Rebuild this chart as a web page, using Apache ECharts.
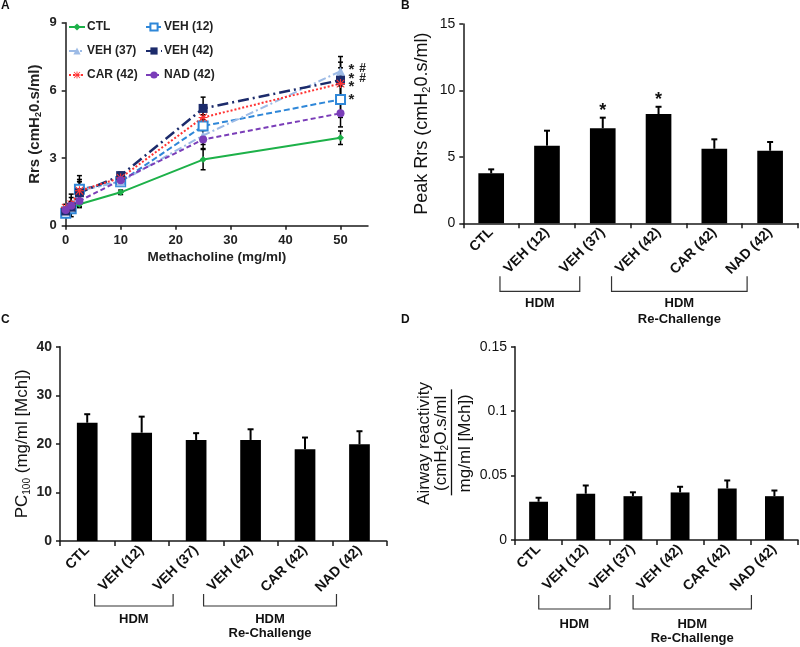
<!DOCTYPE html>
<html>
<head>
<meta charset="utf-8">
<script src="https://cdn.jsdelivr.net/npm/echarts@6/dist/echarts.min.js"></script>
<style>html,body{margin:0;padding:0;background:#fff}#c{width:800px;height:647px}</style>
</head>
<body>
<div id="c"></div>
<script>
// ---------- data ----------
const doses = [0, 1, 2.5, 10, 25, 50];
const xTicksA = [0, 10, 20, 30, 40, 50];
const ctl    = [0.60, 0.78, 0.95, 1.48, 2.93, 3.90];
const veh12  = [0.55, 0.75, 1.62, 1.95, 4.42, 5.60];
const veh37  = [0.70, 0.90, 1.55, 1.95, 4.00, 6.85];
const veh42  = [0.65, 0.82, 1.46, 2.22, 5.20, 6.45];
const car42  = [0.80, 0.95, 1.55, 2.12, 4.80, 6.30];
const nad42  = [0.70, 0.88, 1.10, 2.02, 3.82, 4.98];
const ctlErr   = [0.10, 0.10, 0.10, 0.10, 0.45, 0.30];
const veh12Err = [0.10, 0.20, 0.60, 0.15, 0.50, 0.80];
const veh37Err = [0.10, 0.50, 0.50, 0.15, 0.40, 0.65];
const veh42Err = [0.15, 0.20, 0.50, 0.15, 0.50, 0.80];
const car42Err = [0.15, 0.30, 0.40, 0.15, 0.40, 0.70];
const nad42Err = [0.10, 0.20, 0.30, 0.15, 0.40, 0.60];
const rrsMarks = [
  {t: '*', v: 7.08, col: 0}, {t: '#', v: 6.95, col: 1},
  {t: '*', v: 6.68, col: 0}, {t: '#', v: 6.50, col: 1},
  {t: '*', v: 6.33, col: 0}, {t: '*', v: 5.75, col: 0}
];

const categories = ['CTL', 'VEH (12)', 'VEH (37)', 'VEH (42)', 'CAR (42)', 'NAD (42)'];
const peakRrs    = [3.76, 5.84, 7.15, 8.22, 5.61, 5.46];
const peakRrsErr = [0.30, 1.13, 0.80, 0.55, 0.71, 0.66];
const peakStars  = ['', '', '*', '*', '', ''];
const pc100      = [24.35, 22.3, 20.8, 20.8, 18.9, 19.9];
const pc100Err   = [1.75, 3.30, 1.40, 2.20, 2.40, 2.70];
const reactivity    = [0.0297, 0.0359, 0.0340, 0.0369, 0.0400, 0.0340];
const reactivityErr = [0.0031, 0.0064, 0.0030, 0.0044, 0.0062, 0.0044];
const groups = [
  {lines: ['HDM'], from: 1, to: 2},
  {lines: ['HDM', 'Re-Challenge'], from: 3, to: 5}
];

// ---------- styling ----------
const FONT = "'Liberation Sans', Arial, sans-serif";
const AX = '#1a1a1a';
const chart = echarts.init(document.getElementById('c'), null, {renderer: 'canvas'});

function errSeries(idx, vals, errs, both, cap, lw, z) {
  return {
    type: 'custom', xAxisIndex: idx, yAxisIndex: idx, z: z, silent: true,
    data: vals.map((v, i) => [idx === 0 ? doses[i] : i, v, errs[i]]),
    encode: {x: 0, y: 1},
    renderItem: function (params, api) {
      const x = api.value(0), y = api.value(1), e = api.value(2);
      const t = api.coord([x, y + e]);
      const b = api.coord([x, both ? y - e : y]);
      const st = {stroke: '#000', lineWidth: lw};
      const ch = [
        {type: 'line', shape: {x1: t[0], y1: t[1], x2: b[0], y2: b[1]}, style: st},
        {type: 'line', shape: {x1: t[0] - cap, y1: t[1], x2: t[0] + cap, y2: t[1]}, style: st}
      ];
      if (both) ch.push({type: 'line', shape: {x1: b[0] - cap, y1: b[1], x2: b[0] + cap, y2: b[1]}, style: st});
      return {type: 'group', children: ch};
    }
  };
}

const asterisk = 'path://M4.4,0H5.6V10H4.4Z M0,4.4H10V5.6H0Z M1.2,0.4L9.6,8.8L8.8,9.6L0.4,1.2Z M8.8,0.4L9.6,1.2L1.2,9.6L0.4,8.8Z';
const lineDefs = [
  {name: 'CTL', v: ctl, color: '#1db149', dash: 'solid', sym: 'diamond', size: 7, w: 2},
  {name: 'VEH (12)', v: veh12, color: '#2f87d8', dash: [6, 3], sym: 'emptyRect', size: 9, w: 2},
  {name: 'VEH (37)', v: veh37, color: '#9dbbe6', dash: [8, 3, 2, 3], sym: 'triangle', size: 9, w: 2},
  {name: 'VEH (42)', v: veh42, color: '#1c2b6b', dash: [11, 4, 2, 4], sym: 'rect', size: 9, w: 2.5},
  {name: 'CAR (42)', v: car42, color: '#ff3333', dash: [2, 2], sym: asterisk, size: 9, w: 2},
  {name: 'NAD (42)', v: nad42, color: '#7a3db8', dash: [5, 3], sym: 'circle', size: 8, w: 2}
];

const lineSeries = lineDefs.map(d => ({
  type: 'line', name: d.name, xAxisIndex: 0, yAxisIndex: 0, z: 3,
  data: doses.map((x, i) => [x, d.v[i]]),
  symbol: d.sym, symbolSize: d.size, showSymbol: true,
  lineStyle: {color: d.color, width: d.w, type: d.dash},
  itemStyle: d.sym === 'emptyRect' ? {color: d.color, borderColor: d.color, borderWidth: 1.6} : {color: d.color},
  emphasis: {disabled: true}, animation: false
}));

const lineErrs = [
  errSeries(0, ctl, ctlErr, true, 2.5, 1.5, 2),
  errSeries(0, veh12, veh12Err, true, 2.5, 1.5, 2),
  errSeries(0, veh37, veh37Err, true, 2.5, 1.5, 2),
  errSeries(0, veh42, veh42Err, true, 2.5, 1.5, 2),
  errSeries(0, car42, car42Err, true, 2.5, 1.5, 2),
  errSeries(0, nad42, nad42Err, true, 2.5, 1.5, 2)
];

function legendItem(name, left, top) {
  return {
    data: [name], left: left, top: top, orient: 'horizontal',
    itemWidth: 16, itemHeight: 9, padding: 0,
    textStyle: {fontFamily: FONT, fontWeight: 'bold', fontSize: 12, color: '#222', padding: [0, 0, 0, -3]},
    selectedMode: false
  };
}

function valueAxisBase(idx, opts) {
  return Object.assign({
    type: 'value', gridIndex: idx,
    axisLine: {show: true, lineStyle: {color: AX, width: 1.5}},
    axisTick: {show: true, length: 4, lineStyle: {color: AX, width: 1.5}},
    splitLine: {show: false}
  }, opts);
}
function catAxis(idx) {
  return {
    type: 'category', gridIndex: idx, data: categories,
    axisLine: {show: true, lineStyle: {color: AX, width: 1.5}},
    axisTick: {show: true, length: 5, lineStyle: {color: AX, width: 1.5}},
    axisLabel: {rotate: 45, fontFamily: FONT, fontWeight: 'bold', fontSize: 14, color: '#111', margin: 7}
  };
}

const subRich = (fs, pad) => ({s: {fontSize: fs, padding: [pad, 0, 0, 0], fontFamily: FONT}});

const option = {
  animation: false,
  backgroundColor: '#fff',
  grid: [
    {left: 65.7, top: 22.7, width: 302.3, height: 203, outerBoundsMode: 'none'},
    {left: 463.3, top: 24, width: 334.7, height: 199.3, outerBoundsMode: 'none'},
    {left: 60, top: 346.7, width: 326.7, height: 194.3, outerBoundsMode: 'none'},
    {left: 515, top: 346.7, width: 283, height: 193.3, outerBoundsMode: 'none'}
  ],
  legend: [
    legendItem('CTL', 68, 21), legendItem('VEH (12)', 145, 21),
    legendItem('VEH (37)', 68, 45), legendItem('VEH (42)', 145, 45),
    legendItem('CAR (42)', 68, 69), legendItem('NAD (42)', 145, 69)
  ],
  xAxis: [
    valueAxisBase(0, {
      min: 0, max: 55, interval: 10,
      axisTick: {show: true, length: 4, customValues: xTicksA, lineStyle: {color: AX, width: 1.5}},
      axisLabel: {customValues: xTicksA, fontFamily: FONT, fontWeight: 'bold', fontSize: 13, color: '#222', margin: 8},
      name: 'Methacholine (mg/ml)', nameLocation: 'middle', nameGap: 25,
      nameTextStyle: {fontFamily: FONT, fontWeight: 'bold', fontSize: 13.5, color: '#222'}
    }),
    catAxis(1), catAxis(2), catAxis(3)
  ],
  yAxis: [
    valueAxisBase(0, {
      min: 0, max: 9, interval: 3, offset: 3,
      axisLabel: {fontFamily: FONT, fontWeight: 'bold', fontSize: 13, color: '#222', margin: 6},
      name: 'Rrs (cmH{s|2}0.s/ml)', nameLocation: 'middle', nameGap: 20, nameRotate: 90,
      nameTextStyle: {fontFamily: FONT, fontWeight: 'bold', fontSize: 15, color: '#222', rich: {s: {fontFamily: FONT, fontWeight: 'bold', fontSize: 9, padding: [7, 0, 0, 0]}}}
    }),
    valueAxisBase(1, {
      min: 0, max: 15, interval: 5,
      axisLabel: {fontFamily: FONT, fontSize: 14, color: '#111', margin: 8},
      name: 'Peak Rrs (cmH{s|2}0.s/ml)', nameLocation: 'middle', nameGap: 31, nameRotate: 90,
      nameTextStyle: {fontFamily: FONT, fontSize: 18, color: '#111', rich: subRich(11, 9)}
    }),
    valueAxisBase(2, {
      min: 0, max: 40, interval: 10,
      axisLabel: {fontFamily: FONT, fontWeight: 'bold', fontSize: 14, color: '#222', margin: 8},
      name: 'PC{s|100} (mg/ml [Mch])', nameLocation: 'middle', nameGap: 28, nameRotate: 90,
      nameTextStyle: {fontFamily: FONT, fontSize: 17, color: '#111', rich: subRich(10, 9)}
    }),
    valueAxisBase(3, {
      min: 0, max: 0.15, interval: 0.05,
      axisLabel: {fontFamily: FONT, fontSize: 14, color: '#111', margin: 8}
    })
  ],
  series: lineErrs.concat(lineSeries).concat([
    {type: 'bar', xAxisIndex: 1, yAxisIndex: 1, data: peakRrs, barWidth: '46%', itemStyle: {color: '#000'}, z: 2},
    errSeries(1, peakRrs, peakRrsErr, false, 3, 2, 3),
    {type: 'bar', xAxisIndex: 2, yAxisIndex: 2, data: pc100, barWidth: '38%', itemStyle: {color: '#000'}, z: 2},
    errSeries(2, pc100, pc100Err, false, 3, 2, 3),
    {type: 'bar', xAxisIndex: 3, yAxisIndex: 3, data: reactivity, barWidth: '40%', itemStyle: {color: '#000'}, z: 2},
    errSeries(3, reactivity, reactivityErr, false, 3, 2, 3)
  ])
};
chart.setOption(option);

// ---------- annotations computed from axes ----------
const px = (i, p) => chart.convertToPixel({xAxisIndex: i, yAxisIndex: i}, p);
const g = [];
const letter = (t, x, y) => g.push({type: 'text', x: x, y: y, style: {text: t, fontFamily: FONT, fontWeight: 'bold', fontSize: 12, fill: '#111'}});
letter('A', 1, 0); letter('B', 401, 0); letter('C', 1, 314); letter('D', 401, 314);

// panel A significance marks
rrsMarks.forEach(m => {
  const p = px(0, [doses[doses.length - 1], m.v]);
  const isStar = m.t === '*';
  g.push({type: 'text', x: p[0] + (m.col ? 22 : 11), y: p[1] + (isStar ? 4 : 0),
    style: {text: m.t, fontFamily: FONT, fontWeight: 'bold', fontSize: isStar ? 15 : 12, fill: '#222', align: 'center', verticalAlign: 'middle'}});
});

// panel B stars
peakStars.forEach((s, i) => {
  if (!s) return;
  const p = px(1, [i, peakRrs[i] + peakRrsErr[i]]);
  g.push({type: 'text', x: p[0], y: p[1] - 7,
    style: {text: s, fontFamily: FONT, fontWeight: 'bold', fontSize: 18, fill: '#111', align: 'center', verticalAlign: 'middle'}});
});

// group brackets for B, C, D
const bracketCfg = {1: {top: 53, bot: 68, l1: 80, l2: 96}, 2: {top: 53, bot: 65, l1: 78, l2: 92}, 3: {top: 55, bot: 69, l1: 84, l2: 98}};
[1, 2, 3].forEach(i => {
  const c = bracketCfg[i];
  const base = px(i, [0, 0])[1];
  groups.forEach(gr => {
    const xl = px(i, [gr.from, 0])[0] - 47;
    const xr = px(i, [gr.to, 0])[0] - 23;
    const yt = base + c.top, yb = base + c.bot;
    g.push({type: 'polyline', shape: {points: [[xl, yt], [xl, yb], [xr, yb], [xr, yt]]}, style: {stroke: '#333', lineWidth: 1.2, fill: null}});
    gr.lines.forEach((t, k) => {
      g.push({type: 'text', x: (xl + xr) / 2, y: base + (k === 0 ? c.l1 : c.l2),
        style: {text: t, fontFamily: FONT, fontWeight: 'bold', fontSize: 13, fill: '#111', align: 'center', verticalAlign: 'middle'}});
    });
  });
});

// panel D y-axis title (stacked fraction)
(function () {
  const c0 = px(3, [0, 0]);
  const c1 = px(3, [1, 0]);
  const axisX = c0[0] - (c1[0] - c0[0]) / 2;
  const top = px(3, [0, 0.15]);
  const cy = (c0[1] + top[1]) / 2;
  const tx = (t, x, rich) => g.push({type: 'text', x: x, y: cy, rotation: Math.PI / 2,
    style: {text: t, fontFamily: FONT, fontSize: 17, fill: '#111', align: 'center', verticalAlign: 'middle', rich: rich}});
  tx('Airway reactivity', axisX - 90.5);
  tx('(cmH{s|2}O.s/ml', axisX - 73.5, {s: {fontFamily: FONT, fontSize: 10, padding: [8, 0, 0, 0]}});
  tx('mg/ml [Mch])', axisX - 50);
  g.push({type: 'line', shape: {x1: axisX - 63.5, y1: cy - 54, x2: axisX - 63.5, y2: cy + 52}, style: {stroke: '#111', lineWidth: 1.3}});
})();

chart.setOption({graphic: g});
</script>
</body>
</html>
